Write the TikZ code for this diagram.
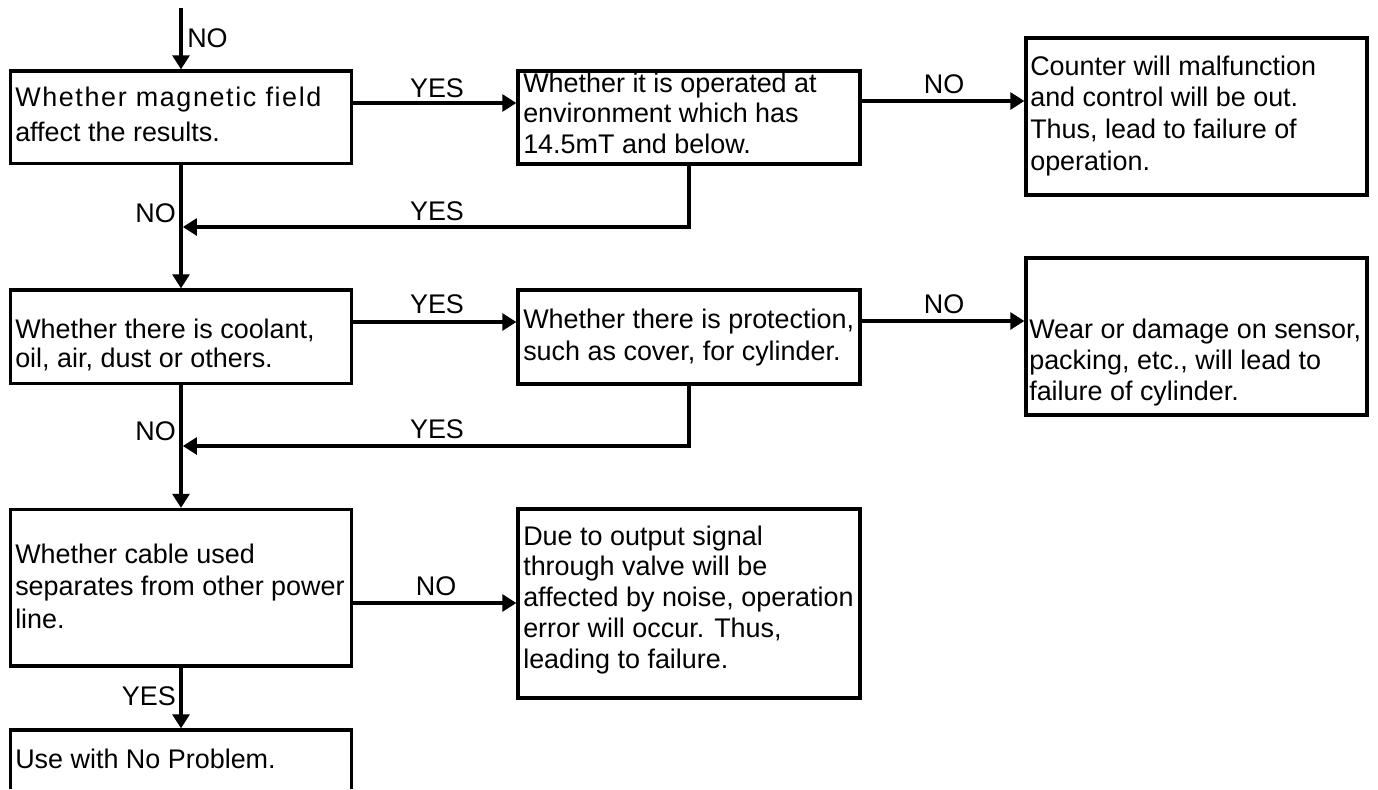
\documentclass[tikz,border=0pt]{standalone}
\usepackage{fontspec}
\setmainfont{Liberation Sans}
\usetikzlibrary{arrows.meta,fit,calc}
\newcommand\btext[2]{\vtop{\fontsize{20.2}{#1}\selectfont\lineskiplimit=-30pt\relax\halign{##\hfil\cr#2\crcr}}}
\begin{document}
\begin{tikzpicture}[x=0.75pt,y=-0.75pt,
  box/.style={draw, line width=2.4pt, inner sep=0pt, rectangle},
  txt/.style={anchor=base west, inner sep=0pt},
  lbl/.style={inner sep=0pt, font=\fontsize{20.2}{24}\selectfont},
  conn/.style={line width=2.7pt},
  arr/.style={conn, -{Triangle[length=10.5pt,width=12.5pt]}}]

\useasboundingbox[fill=white] (0,0) rectangle (1378,789);

% boxes
\node[box, fit={(10.5,71) (351.5,163.5)}] (b1) {};
\node[box, fit={(518,71) (860,164)}] (b2) {};
\node[box, fit={(1026,38) (1367,195)}] (b3) {};
\node[box, fit={(10.5,290) (351.5,383.5)}] (b4) {};
\node[box, fit={(518,290) (860,384)}] (b5) {};
\node[box, fit={(1026,258) (1367,415)}] (b6) {};
\node[box, fit={(10.5,509.5) (351.5,666)}] (b7) {};
\node[box, fit={(518,509) (860,698)}] (b8) {};
\node[inner sep=0pt, outer sep=0pt, fit={(10.5,730) (351.5,789)}] (b9) {};
\draw[line width=2.4pt] (b9.south west) -- (b9.north west) -- (b9.north east) -- (b9.south east);

% texts
\node[txt] (t1) at (15,106) {\btext{26.25pt}{{\addfontfeatures{LetterSpace=6}Whether magnetic field}\cr affect the results.}};
\node[txt] (t2) at (523,92) {\btext{22.9pt}{Whether it is operated at\cr environment which has\cr 14.5mT and below.}};
\node[txt] (t3) at (1030,75) {\btext{23.8pt}{Counter will malfunction\cr and control will be out.\cr Thus, lead to failure of\cr operation.}};
\node[txt] (t4) at (15,338) {\btext{21.75pt}{Whether there is coolant,\cr oil, air, dust or others.}};
\node[txt] (t5) at (523,328) {\btext{24pt}{Whether there is protection,\cr such as cover, for cylinder.}};
\node[txt] (t6) at (1029,338) {\btext{23.25pt}{Wear or damage on sensor,\cr packing, etc., will lead to\cr failure of cylinder.}};
\node[txt] (t7) at (15,563) {\btext{24.4pt}{Whether cable used\cr separates from other power\cr line.}};
\node[txt] (t8) at (523,545) {\btext{23.1pt}{Due to output signal\cr through valve will be\cr affected by noise, operation\cr error will occur. Thus,\cr leading to failure.}};
\node[txt] (t9) at (15,768) {\btext{24pt}{Use with No Problem.}};

% labels
\node[lbl, anchor=base west] (l1) at (187,47) {NO};
\node[lbl, anchor=base] (l2) at (437,97) {YES};
\node[lbl, anchor=base] (l3) at (944,93) {NO};
\node[lbl, anchor=base east] (l4) at (176,222) {NO};
\node[lbl, anchor=base] (l5) at (437,220) {YES};
\node[lbl, anchor=base] (l6) at (437,313) {YES};
\node[lbl, anchor=base] (l7) at (944,313) {NO};
\node[lbl, anchor=base east] (l8) at (176,440) {NO};
\node[lbl, anchor=base] (l9) at (437,438) {YES};
\node[lbl, anchor=base] (l10) at (436,595) {NO};
\node[lbl, anchor=base east] (l11) at (176,705) {YES};

% connectors
\coordinate (top) at (181,8);
\draw[arr] (top) -- (b1.north);
\coordinate (y1) at (0,103);
\draw[arr] (b1.east |- y1) -- (b2.west |- y1);
\coordinate (y2) at (0,101);
\draw[arr] (b2.east |- y2) -- (b3.west |- y2);
\draw[arr] (b1.south) -- (b4.north);
\coordinate (y3) at (0,227);
\coordinate (j1) at ($(b1.south |- y3)+(1.8,0)$);
\draw[arr] (b2.south) |- (j1);
\coordinate (y4) at (0,322);
\draw[arr] (b4.east |- y4) -- (b5.west |- y4);
\coordinate (y5) at (0,321);
\draw[arr] (b5.east |- y5) -- (b6.west |- y5);
\coordinate (y6) at (0,446);
\coordinate (j2) at ($(b4.south |- y6)+(1.8,0)$);
\draw[arr] (b5.south) |- (j2);
\draw[arr] (b4.south) -- (b7.north);
\coordinate (y7) at (0,603);
\draw[arr] (b7.east |- y7) -- (b8.west |- y7);
\draw[arr, shorten >=1.2pt] (b7.south) -- (b9.north);
\end{tikzpicture}
\end{document}
